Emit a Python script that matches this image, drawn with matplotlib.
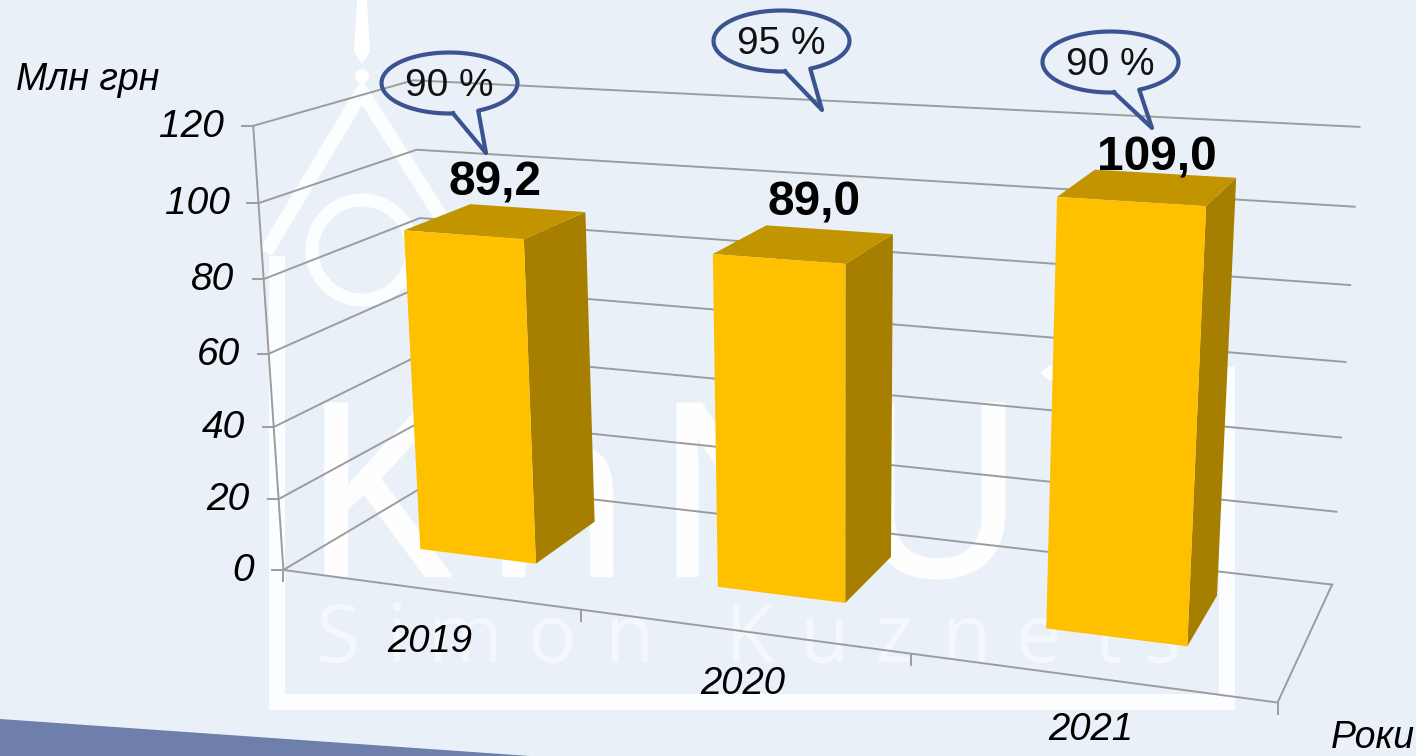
import numpy as np
import matplotlib
matplotlib.use("Agg")
import matplotlib.pyplot as plt
from matplotlib.patches import Polygon, Circle
import matplotlib.patheffects as pe

plt.rcParams['font.family'] = ['Liberation Sans', 'DejaVu Sans']

# data
years = ['2019', '2020', '2021']
values = [89.2, 89.0, 109.0]
value_labels = ['89,2', '89,0', '109,0']
plan_labels = ['90 %', '95 %', '90 %']
y_ticks = [0, 20, 40, 60, 80, 100, 120]

# camera of the fake 3d chart, fitted to box corners
# (category pos, depth 0-1, value) -> pixel
calib_3d = [
    (0, 0, 0), (0, 0, 120), (0, 0, 100), (0, 0, 80), (1, 0, 0), (2, 0, 0), (3, 0, 0),
    (3, 1, 0), (3, 1, 120), (3, 1, 100), (3, 1, 80), (3, 1, 60), (3, 1, 40), (3, 1, 20),
    (0, 1, 0), (0, 1, 120), (0, 1, 100),
    (.3, .33, 89.2), (.7, .33, 89.2), (.3, .33, 0), (.7, .33, 0), (.7, .78, 0), (.7, .78, 89.2),
    (1.3, .33, 89), (1.7, .33, 89), (1.3, .33, 0), (1.7, .33, 0), (1.7, .78, 0), (1.7, .78, 89),
    (2.3, .33, 109), (2.7, .33, 109), (2.3, .33, 0), (2.7, .33, 0), (2.7, .78, 0), (2.7, .78, 109),
]
calib_px = [
    (281, 570), (255, 122), (260, 200), (265, 277), (582, 608), (913, 652), (1277, 700),
    (1333, 580), (1361, 127), (1356, 206), (1352, 282), (1346, 358), (1343, 434), (1337, 508),
    (441, 478), (403, 83), (425, 147),
    (404, 230), (525, 240), (417, 551), (534, 565), (590, 520), (582, 215),
    (714, 254), (847, 265), (718, 589), (847, 604), (890, 565), (890, 238),
    (1059, 197), (1205, 209), (1046, 631), (1187, 646), (1213, 600), (1232, 184),
]


def fit_camera(pts, px):
    rows = []
    for (x, d, v), (u, w) in zip(pts, px):
        p = [x, d, v / 120, 1]
        rows.append(p + [0, 0, 0, 0] + [-u * c for c in p])
        rows.append([0, 0, 0, 0] + p + [-w * c for c in p])
    _, _, vt = np.linalg.svd(np.array(rows, dtype=float))
    return vt[-1].reshape(3, 4)


cam = fit_camera(calib_3d, calib_px)


def project(x, d, v):
    h = cam @ np.array([x, d, v / 120, 1])
    return h[0] / h[2], h[1] / h[2]


fig = plt.figure(figsize=(14.16, 7.56), dpi=100, facecolor='#EAF0F8')
ax = fig.add_axes([0, 0, 1, 1])
ax.set_xlim(0, 1416)
ax.set_ylim(756, 0)
ax.axis('off')

# slide decoration at the bottom
ax.add_patch(Polygon([(0, 719), (530, 756), (0, 756)], fc='#6F7FAC', ec='none', zorder=1))

# watermark
wm = dict(color='white', alpha=0.9, zorder=1, solid_capstyle='butt', solid_joinstyle='miter')
ax.plot([276.5, 276.5, 1227, 1227], [256, 701.5, 701.5, 367], lw=11.5, **wm)
ax.plot([266, 362, 447], [252, 92, 226], lw=10, **wm)
ax.add_patch(Circle((362, 250), 50, fc='none', ec='white', lw=9.4, alpha=0.9, zorder=1))
ax.add_patch(Polygon([(357, 0), (367, 0), (370, 52), (362, 64), (354, 52)], fc='white', ec='none', zorder=1))
ax.add_patch(Circle((362, 76), 7, fc='white', ec='none', zorder=1))
ax.add_patch(Polygon([(1040, 373), (1050, 365), (1060, 373), (1050, 381)], fc='white', ec='none', zorder=1))
wm_big = 'KhNU'
wm_big_x = [303, 484, 655, 851]
for ch, xp in zip(wm_big, wm_big_x):
    ax.text(xp, 575, ch, family='Open Sans', fontsize=172, color='white', alpha=0.9, zorder=1, va='baseline',
            path_effects=[pe.withStroke(linewidth=3, foreground='white')])
wm_letters = 'SimonKuznets'
wm_x = [316, 387, 427, 528, 604, 724, 800, 875, 941, 1015, 1094, 1143]
for ch, xp in zip(wm_letters, wm_x):
    ax.text(xp, 662, ch, family='Open Sans', fontsize=58, color='white', alpha=0.5, zorder=1, va='baseline')

# grid, walls and axis
grid_col = '#9C9C9C'
for t in y_ticks:
    a = project(0, 0, t)
    b = project(0, 1, t)
    c = project(3, 1, t)
    ax.plot([a[0], b[0], c[0]], [a[1], b[1], c[1]], color=grid_col, lw=1.4, zorder=2)
    ax.plot([a[0] - 11, a[0]], [a[1], a[1]], color=grid_col, lw=1.4, zorder=2)
    ax.text(a[0] - 29, a[1] + 1, str(t), ha='right', va='center', fontsize=28, style='italic', color='black', zorder=6)

p0 = project(0, 0, 0)
p1 = project(0, 0, 120)
ax.plot([p0[0], p1[0]], [p0[1], p1[1]], color=grid_col, lw=1.4, zorder=2)
p2 = project(3, 0, 0)
p3 = project(3, 1, 0)
ax.plot([p0[0], p2[0], p3[0]], [p0[1], p2[1], p3[1]], color=grid_col, lw=1.4, zorder=2)
for i in range(4):
    q = project(i, 0, 0)
    ax.plot([q[0], q[0]], [q[1], q[1] + 11], color=grid_col, lw=1.4, zorder=2)

# bars
half_w = 0.2
d0, d1 = 0.33, 0.78
label_dx = [-1, 10, 9]
label_dy = [-38, -41, -29]
for i, v in enumerate(values):
    xl, xr = i + 0.5 - half_w, i + 0.5 + half_w
    front = [project(xl, d0, 0), project(xr, d0, 0), project(xr, d0, v), project(xl, d0, v)]
    side = [project(xr, d0, 0), project(xr, d1, 0), project(xr, d1, v), project(xr, d0, v)]
    top = [project(xl, d0, v), project(xr, d0, v), project(xr, d1, v), project(xl, d1, v)]
    ax.add_patch(Polygon(side, fc='#A67F00', ec='none', zorder=3))
    ax.add_patch(Polygon(top, fc='#C29400', ec='none', zorder=3))
    ax.add_patch(Polygon(front, fc='#FFC000', ec='none', zorder=4))
    mid = project(i + 0.5, (d0 + d1) / 2, v)
    ax.text(mid[0] + label_dx[i], mid[1] + label_dy[i], value_labels[i], ha='center', va='center',
            fontsize=34.5, fontweight='bold', color='black', zorder=6)
    yr = project(i + 0.5, 0, 0)
    ax.text(yr[0] + 1, yr[1] + 53, years[i], ha='center', va='center', fontsize=27.5, style='italic', color='black', zorder=6)

# plan callouts: centre, tip
call_c = [(449.5, 83), (781.5, 41), (1110.5, 62)]
call_tip = [(486, 153), (822, 110), (1152, 128)]
rx, ry = 68, 30.5
for (cx, cy), (tx, ty), lab in zip(call_c, call_tip, plan_labels):
    a1 = np.radians(87)
    a2 = np.radians(65)
    ang = np.linspace(a1, a2 + 2 * np.pi, 160)
    xs = np.r_[cx + rx * np.cos(ang), tx, cx + rx * np.cos(a1)]
    ys = np.r_[cy + ry * np.sin(ang), ty, cy + ry * np.sin(a1)]
    ax.plot(xs, ys, color='#3B5491', lw=3, zorder=5, solid_joinstyle='round')
    ax.text(cx, cy + 3, lab, ha='center', va='center', fontsize=28, color='#111111', zorder=6)

ax.text(16, 80, 'Млн грн', fontsize=27, style='italic', color='black', va='center', zorder=6)
ax.text(1331, 738, 'Роки', fontsize=27, style='italic', color='black', va='center', zorder=6)

fig.savefig('out.png', dpi=100, facecolor=fig.get_facecolor())
